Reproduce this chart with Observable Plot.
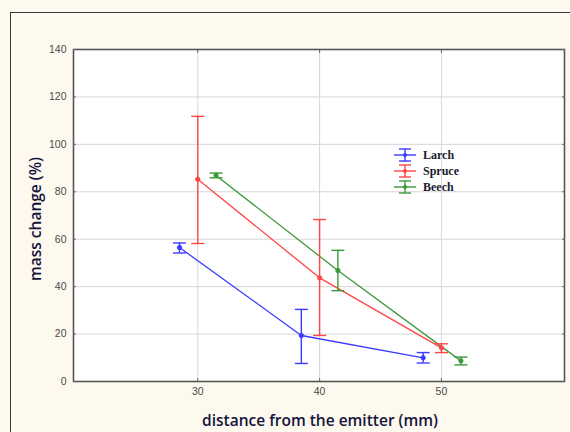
<!DOCTYPE html>
<html><head><meta charset="utf-8">
<script src="https://cdn.jsdelivr.net/npm/d3@7"></script>
<script src="https://cdn.jsdelivr.net/npm/@observablehq/plot@0.6"></script>
<style>
html,body{margin:0;padding:0;background:#fdf9ee;}
#wrap{position:relative;width:570px;height:432px;overflow:hidden;background:#fdf9ee;}
#border{position:absolute;left:10px;top:12px;width:600px;height:460px;border-top:1.5px solid #3a3a3a;border-left:1.5px solid #3a3a3a;}
#chart{position:absolute;left:0;top:0;}
#legend{position:absolute;left:393px;top:147px;font:bold 12px "Liberation Serif",serif;color:#1a1a2e;}
#legend .row{height:16px;display:flex;align-items:center;}
#legend svg{margin-right:6px;}
.axtitle{position:absolute;font:600 15.5px "Open Sans",sans-serif;color:#14143c;white-space:nowrap;}
#ytitle{left:35px;top:219px;transform:translate(-50%,-50%) rotate(-90deg);}
#xtitle{left:320px;top:420px;transform:translate(-50%,-50%);}
</style></head>
<body>
<div id="wrap">
  <div id="border"></div>
  <div id="chart"></div>
  <div id="legend"></div>
  <div id="ytitle" class="axtitle">mass change (%)</div>
  <div id="xtitle" class="axtitle">distance from the emitter (mm)</div>
</div>
<script>
const species = ["Larch", "Spruce", "Beech"];
const colors = ["#3b3bff", "#ff4545", "#3a9a3a"];

const larchX = [28.5, 38.5, 48.5];
const larchMean = [56.5, 19.4, 10.0];
const larchLow = [54.2, 7.6, 7.8];
const larchHigh = [58.4, 30.4, 12.2];

const spruceX = [30, 40, 50];
const spruceMean = [85.3, 43.7, 14.2];
const spruceLow = [58.2, 19.4, 12.2];
const spruceHigh = [111.8, 68.3, 15.9];

const beechX = [31.5, 41.5, 51.6];
const beechMean = [86.9, 46.8, 8.7];
const beechLow = [85.9, 38.3, 7.0];
const beechHigh = [87.9, 55.3, 10.3];

const xTicks = [30, 40, 50];
const yTicks = [0, 20, 40, 60, 80, 100, 120, 140];
const xDomain = [19.8, 60.1];
const yDomain = [0, 140];

const series = [
  [larchX, larchMean, larchLow, larchHigh],
  [spruceX, spruceMean, spruceLow, spruceHigh],
  [beechX, beechMean, beechLow, beechHigh]
];
const rows = [];
series.forEach(([xs, ms, lo, hi], k) => {
  xs.forEach((x, i) => rows.push({species: species[k], x, mean: ms[i], low: lo[i], high: hi[i]}));
});

const cap = {draw(ctx, size) { const w = Math.sqrt(size / Math.PI); ctx.moveTo(-w, 0); ctx.lineTo(w, 0); }};
const tickFont = {fontSize: 10.5, fontFamily: "Liberation Sans, Arial, sans-serif", fill: "#4a4a4a", stroke: "#666"};

const plot = Plot.plot({
  width: 570, height: 432,
  marginLeft: 73, marginRight: 6, marginTop: 49, marginBottom: 51,
  style: {background: "transparent", overflow: "visible"},
  x: {domain: xDomain},
  y: {domain: yDomain},
  color: {domain: species, range: colors},
  marks: [
    Plot.frame({fill: "white", stroke: null}),
    Plot.gridY(yTicks, {stroke: "#d6d6d6", strokeOpacity: 1}),
    Plot.gridX(xTicks, {stroke: "#d6d6d6", strokeOpacity: 1}),
    Plot.line(rows, {x: "x", y: "mean", z: "species", stroke: "species", strokeWidth: 1.3}),
    Plot.ruleX(rows, {x: "x", y1: "low", y2: "high", stroke: "species", strokeWidth: 1.4}),
    Plot.dot(rows, {x: "x", y: "low", symbol: cap, r: 6.5, stroke: "species", strokeWidth: 1.4}),
    Plot.dot(rows, {x: "x", y: "high", symbol: cap, r: 6.5, stroke: "species", strokeWidth: 1.4}),
    Plot.dot(rows, {x: "x", y: "mean", r: 2.2, fill: "species", stroke: "species", strokeWidth: 0.8}),
    Plot.frame({stroke: "#555", strokeWidth: 1.6}),
    Plot.axisY({anchor: "left", ticks: yTicks, tickSize: -3, tickPadding: 10, label: null, ...tickFont}),
    Plot.axisY({anchor: "right", ticks: yTicks, tickSize: -3, tickFormat: () => "", label: null, stroke: "#666"}),
    Plot.axisX({anchor: "bottom", ticks: xTicks, tickSize: -3, tickPadding: 9, label: null, ...tickFont}),
    Plot.axisX({anchor: "top", ticks: xTicks, tickSize: -3, tickFormat: () => "", label: null, stroke: "#666"})
  ]
});
document.getElementById("chart").appendChild(plot);

const legend = document.getElementById("legend");
species.forEach((s, k) => {
  const c = colors[k];
  const row = document.createElement("div");
  row.className = "row";
  row.innerHTML = `<svg width="24" height="14" viewBox="0 0 24 14">
    <line x1="1" y1="7" x2="23" y2="7" stroke="${c}" stroke-width="1.4"/>
    <line x1="12" y1="1" x2="12" y2="13" stroke="${c}" stroke-width="1.4"/>
    <line x1="6" y1="1" x2="18" y2="1" stroke="${c}" stroke-width="1.4"/>
    <line x1="6" y1="13" x2="18" y2="13" stroke="${c}" stroke-width="1.4"/>
    <circle cx="12" cy="7" r="2" fill="${c}"/></svg><span>${s}</span>`;
  legend.appendChild(row);
});
</script>
</body></html>
